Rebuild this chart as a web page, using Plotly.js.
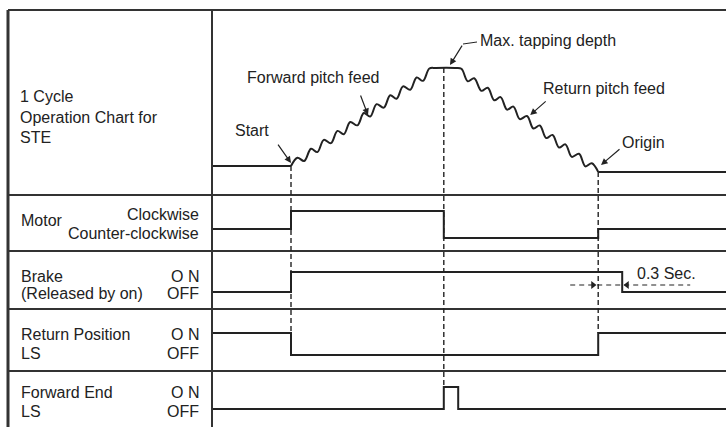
<!DOCTYPE html>
<html>
<head>
<meta charset="utf-8">
<script src="https://cdn.plot.ly/plotly-3.0.1.min.js"></script>
<style>html,body{margin:0;padding:0;background:#fff;}#chart{width:726px;height:427px;}</style>
</head>
<body>
<div id="chart"></div>
<script>
// ---------- DATA (time in seconds, Start = 0) ----------
const tStart = 0, tMaxDepth = 1.91, tOrigin = 3.84, tBrakeOff = 4.14, tFwdEndOff = 2.09;
const tMin = -0.9875, tMax = 5.4375;

// Tap position (depth, % of max tapping depth) with pitch-feed wiggles
const feedT = [tMin, 0,
  0.08, 0.165, 0.25, 0.33, 0.41, 0.50, 0.58, 0.66, 0.74, 0.83, 0.91,
  0.99, 1.07, 1.16, 1.24, 1.32, 1.40, 1.49, 1.57, 1.65, 1.73,
  1.81, 2.05,
  2.13, 2.21, 2.29, 2.38, 2.46, 2.54, 2.62, 2.70, 2.78, 2.86, 2.95,
  3.03, 3.11, 3.19, 3.27, 3.35, 3.43, 3.51, 3.60, 3.68, 3.76,
  3.84, tMax];
const feedDepth = [0, 0,
  8.5, 5.1, 17.6, 14.2, 26.7, 23.3, 35.8, 32.4, 44.9, 41.5, 54.0,
  50.5, 63.1, 59.6, 72.2, 68.7, 81.3, 77.8, 90.4, 86.9, 99.5,
  100, 100,
  99.2, 86.4, 89.5, 76.7, 79.9, 67.1, 70.3, 57.5, 60.6, 47.8, 51.0,
  38.2, 41.4, 28.5, 31.7, 18.9, 22.1, 9.3, 12.5, -0.4, 2.8,
  -6, -6];

// Motor: 1 = clockwise, 0 = stopped, -0.5 = counter-clockwise
const motorT = [tMin, tStart, tMaxDepth, tOrigin, tMax];
const motorLevel = [0, 1, -0.5, 0, 0];
// Brake (released by on): 1 = ON, 0 = OFF
const brakeT = [tMin, tStart, tBrakeOff, tMax];
const brakeLevel = [0, 1, 0, 0];
// Return position LS
const returnT = [tMin, tStart, tOrigin, tMax];
const returnLevel = [1, 0, 1, 1];
// Forward end LS
const fwdT = [tMin, tMaxDepth, tFwdEndOff, tMax];
const fwdLevel = [0, 1, 0, 0];
// 0.3 s dimension
const dimT = [3.49, 4.99];
const dimLevel = 0.35;

// ---------- LAYOUT HELPERS ----------
const W = 726, H = 427;
const FONT = 'Liberation Sans, Arial, Helvetica, sans-serif';
const INK = '#222';
const px = x => x / W;
const py = y => 1 - y / H;

const sig = (x, y, ax, extra) => Object.assign({
  x: x, y: y, xaxis: 'x', yaxis: ax, type: 'scatter', mode: 'lines',
  line: {color: INK, width: 2, shape: 'hv'}, hoverinfo: 'skip', showlegend: false
}, extra || {});

const n = feedT.length;
const traces = [
  // flat rest segments (straight) and the wiggly feed (smoothed)
  sig(feedT.slice(0, 2), feedDepth.slice(0, 2), 'y', {line: {color: INK, width: 2, shape: 'linear'}}),
  sig(feedT.slice(1, n - 1), feedDepth.slice(1, n - 1), 'y', {line: {color: INK, width: 2, shape: 'spline', smoothing: 1}}),
  sig(feedT.slice(n - 2), feedDepth.slice(n - 2), 'y', {line: {color: INK, width: 2, shape: 'linear'}}),
  sig(motorT, motorLevel, 'y2'),
  sig(brakeT, brakeLevel, 'y3'),
  sig(returnT, returnLevel, 'y4'),
  sig(fwdT, fwdLevel, 'y5'),
  sig(dimT, [dimLevel, dimLevel], 'y3', {line: {color: INK, width: 1.2, dash: '5px,4px'}}),
  sig([3.775, 4.2], [dimLevel, dimLevel], 'y3', {mode: 'markers',
    marker: {symbol: ['triangle-right', 'triangle-left'], size: 7, color: INK}})
];

const hline = (y, x0) => ({type: 'line', xref: 'paper', yref: 'paper', x0: px(x0 || 8), x1: 1,
  y0: py(y), y1: py(y), line: {color: '#333', width: 2}});
const vline = (x, w) => ({type: 'line', xref: 'paper', yref: 'paper', x0: px(x), x1: px(x),
  y0: py(10), y1: 0, line: {color: '#333', width: w}});
const guide = (t, y0, y1) => ({type: 'line', xref: 'x', yref: 'paper', x0: t, x1: t,
  y0: py(y0), y1: py(y1), line: {color: INK, width: 1.4, dash: '5px,3px'}});

const shapes = [
  hline(10), hline(195), hline(251), hline(309), hline(371),
  vline(8, 3), vline(212, 2),
  guide(tStart, 166, 333), guide(tMaxDepth, 68, 387), guide(tOrigin, 172, 333),
  {type: 'line', xref: 'paper', yref: 'paper', x0: px(463), x1: px(477), y0: py(44), y1: py(42),
   line: {color: INK, width: 1}}
];

const lab = (text, x, y, anchor) => ({text: text, xref: 'paper', yref: 'paper', x: px(x), y: py(y),
  xanchor: anchor || 'left', yanchor: 'middle', showarrow: false,
  font: {family: FONT, size: 16, color: INK}});
const arrow = (t, d, ax, ay) => ({text: '', xref: 'x', yref: 'y', x: t, y: d, ax: ax, ay: ay,
  showarrow: true, arrowhead: 2, arrowsize: 1.1, arrowwidth: 1.2, arrowcolor: INK, standoff: 0});

const annotations = [
  lab('1 Cycle', 18, 96), lab('Operation Chart for', 18, 117), lab('STE', 18, 137),
  lab('Motor', 19, 220), lab('Clockwise', 201, 214, 'right'), lab('Counter-clockwise', 201, 233, 'right'),
  lab('Brake', 19, 276), lab('(Released by on)', 19, 293), lab('O N', 201, 276, 'right'), lab('OFF', 201, 293, 'right'),
  lab('Return Position', 19, 334), lab('LS', 19, 353), lab('O N', 201, 334, 'right'), lab('OFF', 201, 353, 'right'),
  lab('Forward End', 19, 392), lab('LS', 19, 411), lab('O N', 201, 392, 'right'), lab('OFF', 201, 411, 'right'),
  lab('Start', 233, 130), lab('Forward pitch feed', 245, 78), lab('Max. tapping depth', 478, 40),
  lab('Return pitch feed', 541, 88), lab('Origin', 620, 143), lab('0.3 Sec.', 635, 273),
  arrow(0, 3, -14, -20), arrow(0.9625, 52, -8, -21), arrow(1.9875, 103, 13, -21),
  arrow(2.99, 52, 17, -15), arrow(3.875, 1, 20, -17)
];

const yax = (domTop, domBot, range) => ({domain: [py(domBot), py(domTop)], range: range,
  anchor: 'x', visible: false, fixedrange: true});

const layout = {
  width: W, height: H, margin: {l: 0, r: 0, t: 0, b: 0},
  paper_bgcolor: '#fff', plot_bgcolor: '#fff', showlegend: false,
  xaxis: {domain: [px(212), 1], range: [tMin, tMax], visible: false, fixedrange: true},
  yaxis: yax(10, 195, [-29.6, 159.2]),
  yaxis2: yax(195, 251, [-1.222, 1.889]),
  yaxis3: yax(251, 309, [-0.85, 2.05]),
  yaxis4: yax(309, 371, [-0.727, 2.09]),
  yaxis5: yax(371, 427, [-0.818, 1.727]),
  shapes: shapes, annotations: annotations
};

Plotly.newPlot('chart', traces, layout, {staticPlot: true, displayModeBar: false});
</script>
</body>
</html>
